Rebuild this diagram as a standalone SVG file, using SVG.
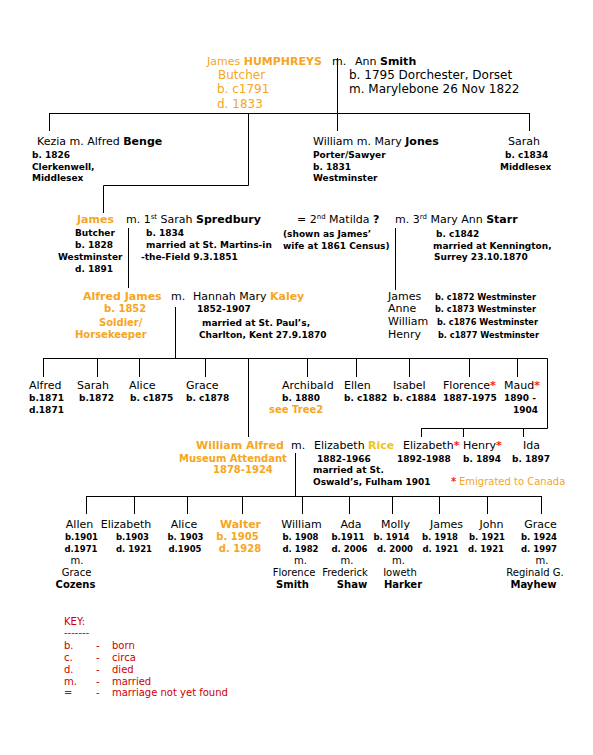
<svg xmlns="http://www.w3.org/2000/svg" width="593" height="755" viewBox="0 0 593 755">
<style>
text { font-family: "DejaVu Sans", Verdana, sans-serif; fill: #000; }
.n { font-size: 11px; }
.t { font-size: 12px; }
.s { font-size: 9px; font-weight: bold; }
.ss { font-size: 8.5px; font-weight: bold; }
.w { font-size: 8.2px; font-weight: bold; }
.sp { font-size: 10px; }
.o { fill: #F6A623; }
.y { fill: #F0C419; }
.r { fill: #FF2020; }
.k { fill: #CC0000; font-size: 10px; }
.b { font-weight: bold; }
.c { text-anchor: middle; }
#connectors path { stroke: #000; stroke-width: 1; fill: none; }
</style>
<rect width="593" height="755" fill="#fff"/>

<g id="connectors">
<path d="M337.5 58 V131"/>
<path d="M49.5 113.5 H529.5"/>
<path d="M49.5 113 V131"/>
<path d="M529.5 113 V131"/>
<path d="M248.5 113 V185.5 H103.5 V213"/>
<path d="M128.5 228 V288"/>
<path d="M395.5 228 V290"/>
<path d="M175.5 307 V358.5"/>
<path d="M43.5 358.5 H547.5 V428.5 H421.5"/>
<path d="M43.5 358 V377 M97.5 358 V377 M139.5 358 V377 M205.5 358 V377 M307.5 358 V377 M356.5 358 V377 M409.5 358 V377 M469.5 358 V377 M517.5 358 V377"/>
<path d="M421.5 428 V437 M463.5 428 V437 M523.5 428 V437"/>
<path d="M248.5 358 V437"/>
<path d="M295.5 453 V496.5"/>
<path d="M86.5 496.5 H541.5"/>
<path d="M86.5 496 V514 M134.5 496 V514 M187.5 496 V514 M242.5 496 V514 M302.5 496 V514 M349.5 496 V514 M392.5 496 V514 M439.5 496 V514 M487.5 496 V514 M541.5 496 V514"/>
</g>

<g id="n-james-humphreys">
<text class="n o" x="207" y="65">James <tspan class="b">HUMPHREYS</tspan></text>
<text class="t o" x="218" y="79">Butcher</text>
<text class="t o" x="217" y="93">b. c1791</text>
<text class="t o" x="217" y="108">d. 1833</text>
</g>
<g id="n-ann-smith">
<text class="n" x="332" y="65">m.</text>
<text class="n" x="355" y="65">Ann <tspan class="b">Smith</tspan></text>
<text class="t" x="349" y="79">b. 1795 Dorchester, Dorset</text>
<text class="t" x="349" y="93">m. Marylebone 26 Nov 1822</text>
</g>

<g id="n-kezia">
<text class="n" x="37" y="145">Kezia  m. Alfred <tspan class="b">Benge</tspan></text>
<text class="s" x="32" y="158">b. 1826</text>
<text class="s" x="32" y="169.5">Clerkenwell,</text>
<text class="s" x="32" y="181">Middlesex</text>
</g>

<g id="n-william-jones">
<text class="n" x="313" y="145">William m. Mary <tspan class="b">Jones</tspan></text>
<text class="s" x="313" y="158">Porter/Sawyer</text>
<text class="s" x="313" y="169.5">b. 1831</text>
<text class="s" x="313" y="181">Westminster</text>
</g>

<g id="n-sarah-1834">
<text class="n" x="508" y="145">Sarah</text>
<text class="s" x="505" y="158">b. c1834</text>
<text class="s" x="500" y="169.5">Middlesex</text>
</g>

<g id="n-james-1828">
<text class="n o b" x="77" y="223">James</text>
<text class="s" x="75" y="236">Butcher</text>
<text class="s" x="75" y="248">b. 1828</text>
<text class="s" x="58" y="260">Westminster</text>
<text class="s" x="75" y="272">d. 1891</text>
</g>
<g id="n-sarah-spredbury">
<text class="n" x="126" y="223">m. 1<tspan font-size="7" dy="-4">st</tspan><tspan dy="4"> Sarah </tspan><tspan class="b">Spredbury</tspan></text>
<text class="s" x="146" y="236">b. 1834</text>
<text class="s" x="146" y="248">married at St. Martins-in</text>
<text class="s" x="141" y="260">-the-Field  9.3.1851</text>
</g>
<g id="n-matilda">
<text class="n" x="297" y="223">= 2<tspan font-size="7" dy="-4">nd</tspan><tspan dy="4"> Matilda </tspan><tspan class="b">?</tspan></text>
<text class="s" x="283" y="237">(shown as James’</text>
<text class="s" x="283" y="249">wife at 1861 Census)</text>
</g>
<g id="n-mary-ann-starr">
<text class="n" x="395" y="223">m. 3<tspan font-size="7" dy="-4">rd</tspan><tspan dy="4"> Mary Ann </tspan><tspan class="b">Starr</tspan></text>
<text class="s" x="436" y="237">b. c1842</text>
<text class="s" x="433" y="249">married at Kennington,</text>
<text class="s" x="434" y="260">Surrey 23.10.1870</text>
</g>

<g id="n-alfred-james">
<text class="n o b" x="83" y="300">Alfred James</text>
<text class="sp o b" x="104" y="312">b. 1852</text>
<text class="sp o b" x="99" y="326">Soldier/</text>
<text class="sp o b" x="75" y="338">Horsekeeper</text>
</g>
<g id="n-hannah-kaley">
<text class="n" x="171" y="300">m.</text>
<text class="n" x="193" y="300">Hannah Mary <tspan class="o b">Kaley</tspan></text>
<text class="s" x="197" y="312">1852-1907</text>
<text class="s" x="202" y="326">married at  St. Paul’s,</text>
<text class="s" x="199" y="338">Charlton, Kent 27.9.1870</text>
</g>

<g id="n-starr-children">
<text class="n" x="388" y="300">James</text>
<text class="n" x="388" y="312">Anne</text>
<text class="n" x="388" y="324.5">William</text>
<text class="n" x="388" y="338">Henry</text>
<text class="w" x="435" y="300">b. c1872 Westminster</text>
<text class="w" x="435" y="312">b. c1873 Westminster</text>
<text class="w" x="437" y="324.5">b. c1876 Westminster</text>
<text class="w" x="438" y="338">b. c1877 Westminster</text>
</g>

<g id="n-alfred-1871">
<text class="n" x="29" y="389">Alfred</text>
<text class="s" x="29" y="401">b.1871</text>
<text class="s" x="29" y="413">d.1871</text>
</g>
<g id="n-sarah-1872">
<text class="n" x="77" y="389">Sarah</text>
<text class="s" x="79" y="401">b.1872</text>
</g>
<g id="n-alice-1875">
<text class="n" x="129" y="389">Alice</text>
<text class="s" x="130" y="401">b. c1875</text>
</g>
<g id="n-grace-1878">
<text class="n" x="186" y="389">Grace</text>
<text class="s" x="186" y="401">b. c1878</text>
</g>
<g id="n-archibald">
<text class="n" x="282" y="389">Archibald</text>
<text class="s" x="282" y="401">b. 1880</text>
<text class="sp o b" x="269" y="413">see Tree2</text>
</g>
<g id="n-ellen">
<text class="n" x="344" y="389">Ellen</text>
<text class="s" x="344" y="401">b. c1882</text>
</g>
<g id="n-isabel">
<text class="n" x="393" y="389">Isabel</text>
<text class="s" x="393" y="401">b. c1884</text>
</g>
<g id="n-florence">
<text class="n" x="443" y="389">Florence<tspan class="r b">*</tspan></text>
<text class="s" x="443" y="401">1887-1975</text>
</g>
<g id="n-maud">
<text class="n" x="504" y="389">Maud<tspan class="r b">*</tspan></text>
<text class="s" x="504" y="401">1890 -</text>
<text class="s" x="513" y="413">1904</text>
</g>

<g id="n-william-alfred">
<text class="n o b" x="196" y="449">William Alfred</text>
<text class="sp o b" x="179" y="462">Museum Attendant</text>
<text class="sp o b" x="213" y="473">1878-1924</text>
</g>
<g id="n-elizabeth-rice">
<text class="n" x="291" y="449">m.</text>
<text class="n" x="314" y="449">Elizabeth <tspan class="y b">Rice</tspan></text>
<text class="s" x="317" y="462">1882-1966</text>
<text class="s" x="313" y="473">married at St.</text>
<text class="s" x="313" y="485">Oswald’s, Fulham 1901</text>
</g>
<g id="n-elizabeth-1892">
<text class="n" x="403" y="449">Elizabeth<tspan class="r b">*</tspan></text>
<text class="s" x="397" y="462">1892-1988</text>
</g>
<g id="n-henry-1894">
<text class="n" x="463" y="449">Henry<tspan class="r b">*</tspan></text>
<text class="s" x="463" y="462">b. 1894</text>
</g>
<g id="n-ida">
<text class="n" x="523" y="449">Ida</text>
<text class="s" x="512" y="462">b. 1897</text>
</g>
<g id="note-emigrated">
<text class="sp r b" x="451" y="485">*</text>
<text class="sp o" x="459" y="485">Emigrated to Canada</text>
</g>

<g id="n-allen">
<text class="n c" x="79.5" y="528">Allen</text>
<text class="ss c" x="81.5" y="539.5">b.1901</text>
<text class="ss c" x="81" y="552">d.1971</text>
<text class="sp c" x="77" y="563.5">m.</text>
<text class="sp c" x="76.5" y="575.5">Grace</text>
<text class="sp b c" x="75.5" y="587.5">Cozens</text>
</g>
<g id="n-elizabeth-1903">
<text class="n c" x="126" y="528">Elizabeth</text>
<text class="ss c" x="132.5" y="539.5">b.1903</text>
<text class="ss c" x="134" y="552">d. 1921</text>
</g>
<g id="n-alice-1903">
<text class="n c" x="184" y="528">Alice</text>
<text class="ss c" x="185.5" y="539.5">b. 1903</text>
<text class="ss c" x="185" y="552">d.1905</text>
</g>
<g id="n-walter">
<text class="n o b c" x="240.5" y="528">Walter</text>
<text class="sp o b c" x="237.5" y="539.5">b. 1905</text>
<text class="sp o b c" x="240" y="552">d. 1928</text>
</g>
<g id="n-william-1908">
<text class="n c" x="301.5" y="528">William</text>
<text class="ss c" x="300.5" y="539.5">b. 1908</text>
<text class="ss c" x="300.5" y="552">d. 1982</text>
<text class="sp c" x="300.5" y="563.5">m.</text>
<text class="sp c" x="294" y="575.5">Florence</text>
<text class="sp b c" x="292.5" y="587.5">Smith</text>
</g>
<g id="n-ada">
<text class="n c" x="351" y="528">Ada</text>
<text class="ss c" x="348" y="539.5">b.1911</text>
<text class="ss c" x="349.5" y="552">d. 2006</text>
<text class="sp c" x="347" y="563.5">m.</text>
<text class="sp c" x="345" y="575.5">Frederick</text>
<text class="sp b c" x="352" y="587.5">Shaw</text>
</g>
<g id="n-molly">
<text class="n c" x="395.5" y="528">Molly</text>
<text class="ss c" x="391.5" y="539.5">b. 1914</text>
<text class="ss c" x="395" y="552">d. 2000</text>
<text class="sp c" x="398.5" y="563.5">m.</text>
<text class="sp c" x="400" y="575.5">Ioweth</text>
<text class="sp b c" x="403" y="587.5">Harker</text>
</g>
<g id="n-james-1918">
<text class="n c" x="446.5" y="528">James</text>
<text class="ss c" x="440" y="539.5">b. 1918</text>
<text class="ss c" x="440.5" y="552">d. 1921</text>
</g>
<g id="n-john">
<text class="n c" x="491.5" y="528">John</text>
<text class="ss c" x="487" y="539.5">b. 1921</text>
<text class="ss c" x="486" y="552">d. 1921</text>
</g>
<g id="n-grace-1924">
<text class="n c" x="540.5" y="528">Grace</text>
<text class="ss c" x="539" y="539.5">b. 1924</text>
<text class="ss c" x="539" y="552">d. 1997</text>
<text class="sp c" x="542" y="563.5">m.</text>
<text class="sp c" x="535" y="575.5">Reginald G.</text>
<text class="sp b c" x="533.5" y="587.5">Mayhew</text>
</g>

<g id="key">
<text class="k" x="64" y="625">KEY:</text>
<text class="k" x="64" y="636">-------</text>
<text class="k" x="64" y="649">b.</text><text class="k" x="96" y="649">-</text><text class="k" x="112" y="649">born</text>
<text class="k" x="64" y="661">c.</text><text class="k" x="96" y="661">-</text><text class="k" x="112" y="661">circa</text>
<text class="k" x="64" y="673">d.</text><text class="k" x="96" y="673">-</text><text class="k" x="112" y="673">died</text>
<text class="k" x="64" y="685">m.</text><text class="k" x="96" y="685">-</text><text class="k" x="112" y="685">married</text>
<text class="k" x="64" y="696">=</text><text class="k" x="96" y="696">-</text><text class="k" x="112" y="696">marriage not yet found</text>
</g>
</svg>
